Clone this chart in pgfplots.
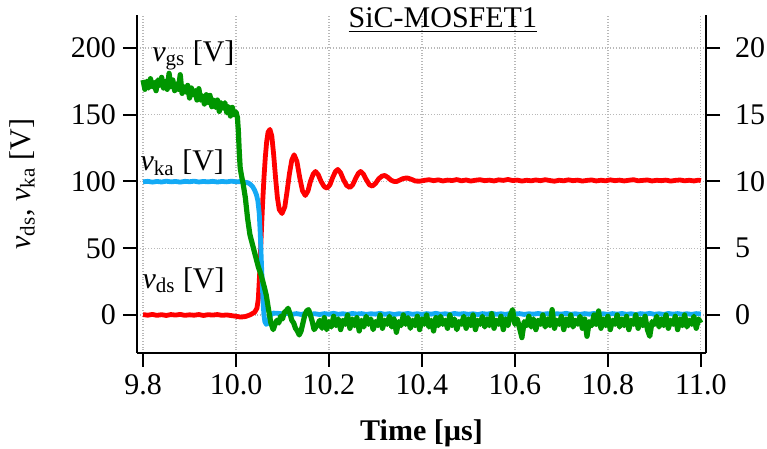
\documentclass[border=0pt]{standalone}
\usepackage{fontspec}
\setmainfont{Liberation Serif}
\usepackage{pgfplots}
\pgfplotsset{compat=1.18}
\definecolor{cred}{RGB}{255,0,0}
\definecolor{cblue}{RGB}{20,170,245}
\definecolor{cgreen}{RGB}{0,150,0}
\newcommand{\fs}{\fontsize{15}{18}\selectfont}
\begin{document}
\begin{tikzpicture}
\pgfplotsset{
  common/.style={
    scale only axis, width=284.5pt, height=169pt,
    xmin=9.787, xmax=11.011,
    clip mode=individual,
    tick align=outside, major tick length=7pt,
    every tick/.style={black, line width=1pt},
    axis line style={line width=1pt},
    /pgf/number format/assume math mode=true,
    every tick label/.append style={font=\fs},
  }
}
\begin{axis}[common,
  ymin=-28.5, ymax=224.7,
  axis x line*=bottom, axis y line*=left,
  xtick={9.8,10,10.2,10.4,10.6,10.8,11},
  xticklabel style={/pgf/number format/.cd, fixed, fixed zerofill, precision=1},
  ytick={0,50,100,150,200},
  grid=major, grid style={densely dotted, black!28, line width=0.6pt},
  xlabel={\textbf{Time [µs]}},
  xlabel style={font=\fs, at={(axis description cs:0.5,-0.237)}, anchor=center},
  ylabel={\textit{v}\textsubscript{ds}, \textit{v}\textsubscript{ka} [V]},
  ylabel style={font=\fs, at={(axis description cs:-0.202,0.5)}, anchor=center},
]
\coordinate (sw) at (rel axis cs:0,0);
% v_ds
\addplot[cred, line width=2.4pt, line join=round] table {
9.800 0.3
9.810 -0.2
9.820 0.4
9.830 -0.3
9.840 0.2
9.850 -0.4
9.860 0.3
9.870 -0.1
9.880 0.4
9.890 -0.3
9.900 0.1
9.910 -0.2
9.920 0.3
9.930 -0.4
9.940 0.2
9.950 -0.1
9.960 0.3
9.970 -0.3
9.980 0.0
9.990 -0.5
10.000 -1.0
10.010 -1.6
10.020 -1.2
10.030 0.0
10.036 1.2
10.040 2
10.045 5
10.048 12
10.051 32
10.054 58
10.057 82
10.060 102
10.063 118
10.066 130
10.069 137
10.073 139
10.077 134
10.081 120
10.085 103
10.089 88
10.093 79
10.099 76
10.105 81
10.110 93
10.115 106
10.120 116
10.125 120
10.131 115
10.137 103
10.143 93
10.149 89.5
10.155 93
10.160 100
10.166 105.5
10.171 107.5
10.177 105
10.183 100
10.190 96
10.196 95
10.202 97.5
10.208 103
10.214 107.5
10.219 109
10.225 106.5
10.231 101.5
10.238 97
10.245 95.5
10.251 97.5
10.257 102
10.263 106
10.268 107.5
10.274 105.5
10.280 101.5
10.287 97.5
10.293 96.5
10.300 98.5
10.307 102
10.314 104
10.320 104.5
10.327 103
10.333 101
10.340 100
10.346 100
10.352 101
10.358 102
10.364 102.5
10.370 102.5
10.378 101.5
10.386 100.3
10.395 100.2
10.405 100.8
10.415 101.3
10.425 100.6
10.435 101.2
10.445 100.4
10.455 101.0
10.465 100.7
10.475 101.4
10.485 100.5
10.495 101.1
10.505 100.3
10.515 100.9
10.525 101.3
10.535 100.6
10.545 101.0
10.555 100.4
10.565 101.2
10.575 100.8
10.585 101.5
10.595 100.7
10.605 101.0
10.615 100.3
10.625 100.9
10.635 100.5
10.645 101.1
10.655 100.6
10.665 101.3
10.675 100.7
10.685 100.2
10.695 100.9
10.705 100.5
10.715 101.2
10.725 100.6
10.735 101.0
10.745 100.3
10.755 100.8
10.765 101.1
10.775 100.4
10.785 100.9
10.795 100.5
10.805 101.2
10.815 100.6
10.825 101.0
10.835 100.4
10.845 100.9
10.855 101.3
10.865 100.5
10.875 100.8
10.885 101.1
10.895 100.4
10.905 100.9
10.915 100.6
10.925 101.0
10.935 100.3
10.945 100.8
10.955 101.1
10.965 100.5
10.975 100.9
10.985 100.4
10.995 101.0
11.000 100.6
};
% v_ka
\addplot[cblue, line width=2.4pt, line join=round] table {
9.800 99.7
9.810 100.1
9.820 99.5
9.830 100.0
9.840 99.6
9.850 100.2
9.860 99.7
9.870 100.0
9.880 99.5
9.890 100.1
9.900 99.8
9.910 100.2
9.920 99.6
9.930 100.0
9.940 99.7
9.950 100.1
9.960 99.6
9.970 100.0
9.980 99.7
9.990 100.2
10.000 99.8
10.010 99.9
10.020 99.4
10.026 99.0
10.031 97.8
10.036 96.0
10.040 93.5
10.044 90.0
10.047 85.5
10.050 76
10.052 62
10.054 45
10.056 27
10.058 11
10.060 0
10.062 -5
10.065 -7
10.068 -6.5
10.071 -3
10.075 0
10.080 1.4
10.090 1.2
10.100 0.9
10.110 1.2
10.120 0.5
10.130 1.0
10.140 0.4
10.150 1.1
10.160 0.6
10.170 0.9
10.180 0.3
10.190 1.0
10.200 0.6
10.210 1.2
10.220 0.5
10.230 0.9
10.240 0.4
10.250 1.1
10.260 0.7
10.270 1.0
10.280 0.4
10.290 0.9
10.300 0.6
10.310 1.2
10.320 0.5
10.330 1.0
10.340 0.3
10.350 0.9
10.360 0.6
10.370 1.1
10.380 0.5
10.390 0.9
10.400 0.4
10.410 1.0
10.420 0.6
10.430 1.2
10.440 0.5
10.450 0.9
10.460 0.4
10.470 1.1
10.480 0.6
10.490 1.0
10.500 0.5
10.510 0.9
10.520 0.3
10.530 1.0
10.540 0.6
10.550 1.2
10.560 0.5
10.570 0.9
10.580 0.4
10.590 1.1
10.600 0.7
10.610 1.0
10.620 0.4
10.630 0.9
10.640 0.6
10.650 1.1
10.660 0.5
10.670 1.0
10.680 0.3
10.690 0.9
10.700 0.6
10.710 1.2
10.720 0.5
10.730 0.9
10.740 0.4
10.750 1.0
10.760 0.6
10.770 1.1
10.780 0.5
10.790 0.9
10.800 0.4
10.810 1.0
10.820 0.6
10.830 1.1
10.840 0.5
10.850 0.9
10.860 0.3
10.870 1.0
10.880 0.6
10.890 1.2
10.900 0.5
10.910 0.9
10.920 0.4
10.930 1.1
10.940 0.6
10.950 1.0
10.960 0.5
10.970 0.9
10.980 0.4
10.990 1.0
11.000 0.7
};
\node[font=\fs, anchor=base west, inner sep=0pt] at (axis cs:9.819,190) {\textit{v}\textsubscript{gs} [V]};
\node[font=\fs, anchor=base west, inner sep=0pt] at (axis cs:9.794,108) {\textit{v}\textsubscript{ka} [V]};
\node[font=\fs, anchor=base west, inner sep=0pt] at (axis cs:9.798,20) {\textit{v}\textsubscript{ds} [V]};
\node[font=\fs, anchor=base, inner sep=0pt] at (axis cs:10.445,215) {\underline{SiC-MOSFET1}};
\end{axis}
\begin{axis}[common,
  ymin=-2.85, ymax=22.47,
  axis y line*=right, axis x line=none,
  ytick={0,5,10,15,20},
  yticklabel style={xshift=4pt},
]
% v_gs
\addplot[cgreen, line width=2.6pt, line join=round] table {
9.800 17.6
9.804 16.9
9.808 17.5
9.812 17.0
9.816 17.7
9.820 17.1
9.824 17.4
9.828 16.8
9.832 17.6
9.836 17.2
9.840 17.8
9.844 17.0
9.848 17.5
9.852 16.9
9.856 18.1
9.860 17.1
9.864 17.6
9.868 16.8
9.872 17.3
9.876 16.9
9.880 18.0
9.884 16.6
9.888 17.1
9.892 16.7
9.896 17.2
9.900 16.25
9.904 17.0
9.908 16.5
9.912 16.8
9.916 16.1
9.920 16.95
9.924 16.1
9.928 16.4
9.932 15.8
9.936 16.5
9.940 15.9
9.944 16.45
9.948 15.6
9.952 16.1
9.956 15.55
9.960 16.1
9.964 15.25
9.968 15.9
9.972 15.5
9.976 15.9
9.980 15.15
9.984 15.6
9.988 14.9
9.992 15.55
9.996 15.0
10.000 15.2
10.003 14.8
10.005 13.8
10.007 12.2
10.009 11.0
10.012 10.4
10.015 9.9
10.020 8.8
10.025 7.2
10.030 6.0
10.036 5.2
10.042 4.4
10.048 3.6
10.054 3.0
10.060 2.2
10.065 1.5
10.070 0.4
10.075 -0.6
10.080 -1.1
10.084 -0.7
10.088 -0.4
10.092 -0.6
10.096 -0.1
10.100 -0.3
10.104 0.2
10.108 0.3
10.112 0.5
10.116 0.1
10.120 -0.4
10.124 -0.6
10.128 -1.0
10.132 -1.2
10.136 -1.5
10.140 -1.2
10.144 -0.6
10.148 0.0
10.152 0.3
10.156 0.4
10.160 0.0
10.164 -0.5
10.168 -1.1
10.172 -0.9
10.176 -0.7
10.180 -0.4
10.185 -1.0
10.190 -0.2
10.195 -1.1
10.200 -0.5
10.205 -0.9
10.210 -0.1
10.215 -0.8
10.220 -0.3
10.225 -1.1
10.230 -0.4
10.235 -0.7
10.240 0.0
10.245 -1.0
10.250 -0.3
10.255 -0.8
10.260 -0.2
10.265 -1.2
10.270 -0.4
10.275 -0.9
10.280 -0.1
10.285 -0.7
10.290 -0.3
10.295 -1.1
10.300 -0.5
10.305 -0.8
10.310 0.0
10.315 -1.0
10.320 -0.4
10.325 -0.7
10.330 -0.1
10.335 -0.9
10.340 -0.3
10.345 -1.3
10.350 -0.5
10.355 -0.8
10.360 0.0
10.365 -0.7
10.370 -0.2
10.375 -1.0
10.380 -0.4
10.385 -0.8
10.390 -0.1
10.395 -1.1
10.400 -0.3
10.405 -0.7
10.410 0.0
10.415 -0.9
10.420 -0.4
10.425 -1.2
10.430 -0.2
10.435 -0.8
10.440 -0.1
10.445 -0.7
10.450 -0.4
10.455 -1.0
10.460 0.0
10.465 -0.8
10.470 -0.3
10.475 -1.1
10.480 -0.5
10.485 -0.7
10.490 -0.1
10.495 -1.0
10.500 -0.3
10.505 -0.8
10.510 0.0
10.515 -1.1
10.520 -0.4
10.525 -0.7
10.530 -0.1
10.535 -0.9
10.540 -0.3
10.545 -0.8
10.550 0.1
10.555 -1.0
10.560 -0.4
10.565 -0.7
10.570 -0.1
10.575 -1.1
10.580 -0.3
10.585 -0.8
10.590 0.0
10.595 0.4
10.600 -0.7
10.605 -0.3
10.610 -1.0
10.615 -1.7
10.620 -0.5
10.625 -0.8
10.630 -0.1
10.635 -0.9
10.640 -0.3
10.645 -1.1
10.650 -0.4
10.655 -0.7
10.660 0.0
10.665 -0.9
10.670 -0.3
10.675 -0.8
10.680 0.4
10.685 -1.0
10.690 -0.4
10.695 -0.7
10.700 -0.1
10.705 -1.1
10.710 -0.3
10.715 -0.8
10.720 0.0
10.725 -0.9
10.730 -0.4
10.735 -0.7
10.740 -0.1
10.745 -1.0
10.750 -0.3
10.755 -1.6
10.760 -0.5
10.765 -0.8
10.770 0.0
10.775 -0.7
10.780 0.3
10.785 -1.0
10.790 -0.3
10.795 -0.8
10.800 -0.1
10.805 -1.1
10.810 -0.4
10.815 -0.7
10.820 0.0
10.825 -0.9
10.830 -0.3
10.835 -0.8
10.840 -0.1
10.845 -1.1
10.850 -0.4
10.855 -0.7
10.860 0.0
10.865 -1.0
10.870 -0.3
10.875 -0.8
10.880 -0.1
10.885 -1.1
10.890 -1.6
10.895 -0.5
10.900 -0.7
10.905 -0.1
10.910 -0.9
10.915 -0.3
10.920 -0.8
10.925 0.0
10.930 -1.0
10.935 -0.4
10.940 -0.7
10.945 -0.1
10.950 -1.1
10.955 -0.3
10.960 -0.8
10.965 0.0
10.970 -0.9
10.975 -0.4
10.980 -0.7
10.985 -0.1
10.990 -1.0
10.995 -0.3
11.000 -0.6
};
\end{axis}
\pgfresetboundingbox
\path[use as bounding box] (sw) ++(-68.5pt,-48pt) rectangle ++(383.5pt,224.5pt);
\end{tikzpicture}
\end{document}
